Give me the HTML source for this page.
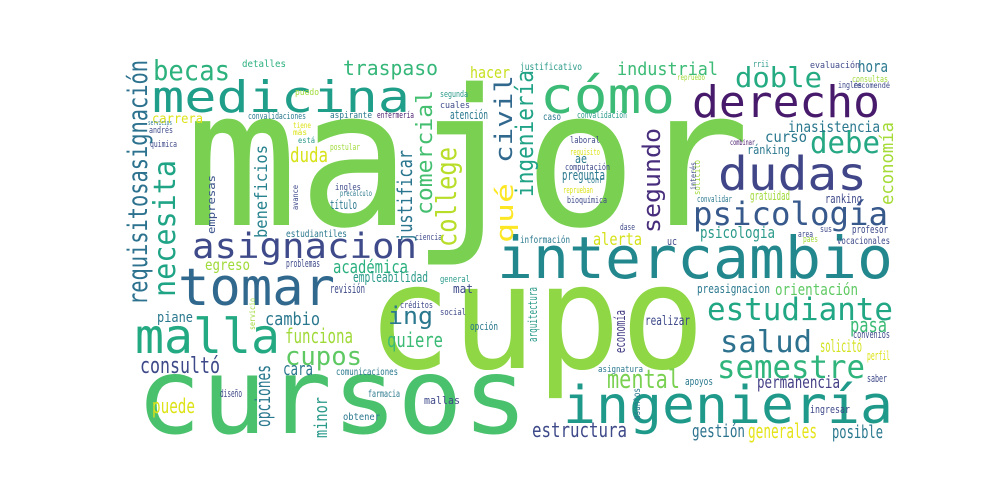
<!DOCTYPE html>
<html><head><meta charset="utf-8"><style>
html,body{margin:0;padding:0;background:#fff;width:1000px;height:500px;overflow:hidden}
svg text{font-family:"DejaVu Sans Mono","Liberation Mono",monospace}
</style></head><body>
<svg width="1000" height="500" viewBox="0 0 1000 500" xmlns="http://www.w3.org/2000/svg">
<rect x="0" y="0" width="1000" height="500" fill="#fff"/>
<g id="words"></g>
</svg>
<script>
// [text, x, y(baseline), fontSize, length, color, vertical]
const words = [
["major",185,225,190,565,"#7ad151",0],
["cupo",367,368,145,338,"#8fd744",0],
["cursos",136,433,105,392,"#4ac16d",0],
["ingeniería",563,423,52,330,"#1f9a8a",0],
["intercambio",497,278,58,396,"#23888e",0],
["tomar",178,305,52,157,"#31688e",0],
["malla",135,353,48,145,"#24aa83",0],
["medicina",152,112,44,258,"#1f9e89",0],
["cómo",540,113,50,135,"#3bbb75",0],
["derecho",692,117,44,188,"#481a6c",0],
["dudas",718,190,46,149,"#404688",0],
["asignacion",192,258,35,225,"#3e4a89",0],
["psicología",693,225,32,195,"#37598c",0],
["estudiante",707,320,31,186,"#22a785",0],
["salud",720,352,30,92,"#2d718e",0],
["semestre",717,378,32,148,"#2fb47c",0],
["mental",607,388,26,73,"#7ad151",0],
["doble",735,87,28,87,"#25ab82",0],
["debe",810,153,30,70,"#26a884",0],
["becas",153,80,28,77,"#2db27d",0],
["traspaso",343,75,20,95,"#35b779",0],
["cupos",285,365,26,77,"#5ec962",0],
["hacer",470,78,16,40,"#c8e020",0],
["industrial",617,75,18,101,"#3bbb75",0],
["hora",858,72,16,30,"#2a788e",0],
["duda",290,162,20,38,"#d8e219",0],
["alerta",593,245,17,49,"#d5e21a",0],
["académica",333,273,18,75,"#2ab07f",0],
["orientación",775,295,16,83,"#5ec962",0],
["pasa",850,332,20,37,"#3bbb75",0],
["ing",388,324,24,45,"#2a788e",0],
["quiere",387,347,20,56,"#3bbb75",0],
["cambio",265,325,18,55,"#2a788e",0],
["funciona",285,343,20,68,"#a0da39",0],
["cara",283,375,18,30,"#2a788e",0],
["piane",157,322,14,36,"#2a788e",0],
["consultó",140,373,22,80,"#3e4989",0],
["solicitó",820,352,17,42,"#d2e21b",0],
["permanencia",757,388,17,83,"#433e85",0],
["puede",152,413,20,43,"#dde318",0],
["estructura",532,437,20,95,"#3e4989",0],
["gestión",692,437,18,53,"#2c738e",0],
["generales",748,438,20,69,"#e5e419",0],
["posible",832,438,18,51,"#2a788e",0],
["curso",765,142,15,42,"#2a788e",0],
["inasistencia",788,132,15,92,"#2a788e",0],
["psicologia",700,238,16,75,"#2a9a8a",0],
["egreso",205,270,15,45,"#a0da39",0],
["pregunta",562,180,14,43,"#2a788e",0],
["atención",450,119,12,38,"#2a788e",0],
["realizar",645,325,13,45,"#3e4989",0],
["título",330,209,12,27,"#2a788e",0],
["detalles",242,67,10,44,"#2ab07f",0],
["carrera",152,123,13,51,"#dde318",0],
["consultas",852,82,9,36,"#a0da39",0],
["justificativo",520,70,10,62,"#2a9a8a",0],
["evaluación",810,68,9,50,"#3e4989",0],
["gratuidad",750,200,12,40,"#a0da39",0],
["ránking",747,154,12,43,"#2a788e",0],
["ranking",825,203,12,37,"#3e4989",0],
["profesor",852,233,11,36,"#3e4989",0],
["vocacionales",837,244,10,53,"#3e4989",0],
["información",520,243,10,50,"#2a788e",0],
["uc",667,245,11,10,"#3e4989",0],
["ae",575,163,12,12,"#2a788e",0],
["preasignacion",697,293,12,73,"#2a788e",0],
["convenios",853,338,11,37,"#3e4989",0],
["perfil",867,360,12,23,"#dde318",0],
["saber",867,382,11,20,"#3e4989",0],
["apoyos",685,385,11,28,"#2a788e",0],
["ingresar",810,413,11,40,"#3e4989",0],
["empleabilidad",353,282,14,75,"#2a9a8a",0],
["revisión",330,293,12,35,"#3e4989",0],
["problemas",286,267,11,34,"#3e4989",0],
["estudiantiles",286,237,10,61,"#2a788e",0],
["convalidaciones",248,119,9,58,"#2a788e",0],
["aspirante",330,118,9,42,"#2a788e",0],
["cuales",440,108,9,30,"#3e4989",0],
["laboral",570,143,9,30,"#3e4989",0],
["computación",565,170,9,45,"#3e4989",0],
["bioquímica",567,203,9,40,"#3e4989",0],
["mat",453,293,12,20,"#3e4989",0],
["créditos",400,308,9,33,"#3e4989",0],
["social",440,315,9,26,"#3e4989",0],
["opción",470,330,11,28,"#2a788e",0],
["diseño",220,397,11,22,"#3e4989",0],
["mallas",424,404,11,36,"#3e4989",0],
["farmacia",368,397,10,32,"#2a788e",0],
["obtener",343,420,10,37,"#2a788e",0],
["comunicaciones",336,375,10,62,"#2a788e",0],
["asignatura",598,372,9,45,"#2a788e",0],
["puedo",295,95,9,24,"#a0da39",0],
["segunda",440,97,9,28,"#2a9a8a",0],
["tiene",293,128,8,18,"#dde318",0],
["más",293,135,8,14,"#dde318",0],
["está",298,143,8,17,"#2a9a8a",0],
["postular",330,150,9,30,"#a0da39",0],
["ingles",335,190,9,26,"#3e4989",0],
["precálculo",340,196,8,32,"#2a788e",0],
["ciencia",415,240,9,27,"#3e4989",0],
["general",440,282,9,30,"#2a9a8a",0],
["andrés",149,133,9,24,"#3e4989",0],
["quimica",150,147,9,27,"#3e4989",0],
["servicios",148,125,7,24,"#2a788e",0],
["enfermería",377,118,9,37,"#481a6c",0],
["caso",543,120,10,18,"#2a788e",0],
["convalidación",577,118,9,50,"#2a9a8a",0],
["requisito",570,155,9,30,"#dde318",0],
["conr",587,183,9,16,"#2a788e",0],
["reprueban",563,193,9,30,"#dde318",0],
["dase",620,230,9,15,"#3e4989",0],
["combinar",730,145,8,25,"#481a6c",0],
["convalidar",697,202,9,35,"#2a788e",0],
["sus",820,232,9,12,"#3e4989",0],
["area",798,237,9,15,"#3e4989",0],
["paes",803,242,9,15,"#a0da39",0],
["rrii",753,67,9,16,"#2a9a8a",0],
["inglés",838,88,9,24,"#3e4989",0],
["recomendé",853,88,8,37,"#3e4989",0],
["repruebo",677,80,8,28,"#a0da39",0],
["requisitosasignación",147,305,27,245,"#2c728e",1],
["necesita",175,297,30,137,"#20a486",1],
["qué",513,243,24,60,"#fde725",1],
["civil",512,163,24,88,"#31688e",1],
["ingeniería",533,197,24,127,"#20a386",1],
["college",456,247,28,100,"#b8de29",1],
["comercial",432,215,22,125,"#44bf70",1],
["segundo",660,233,24,105,"#472d7b",1],
["justificar",412,242,20,92,"#2a768e",1],
["beneficios",267,238,17,93,"#26828e",1],
["empresas",215,234,11,59,"#3b528b",1],
["opciones",270,427,20,62,"#2a788e",1],
["minor",327,438,18,41,"#2a9a8a",1],
["economía",893,205,18,83,"#a5db36",1],
["economía",625,353,14,43,"#433e85",1],
["arquitectura",537,342,12,55,"#2a9a8a",1],
["asuntos",640,420,10,32,"#2a788e",1],
["solicito",700,195,9,35,"#a0da39",1],
["interés",696,190,8,28,"#3e4989",1],
["avance",298,210,8,25,"#3e4989",1],
["servicio",255,330,8,32,"#a0da39",1]
];
const g=document.getElementById('words');
const NS="http://www.w3.org/2000/svg";
words.forEach(w=>{
  const t=document.createElementNS(NS,'text');
  
  
  t.setAttribute('x',w[1]);t.setAttribute('y',w[2]);
  t.setAttribute('font-size',w[3]);
  t.setAttribute('fill',w[5]);
  t.setAttribute('textLength',w[4]);
  t.setAttribute('lengthAdjust','spacingAndGlyphs');
  if(w[6])t.setAttribute('transform','rotate(-90 '+w[1]+' '+w[2]+')');
  t.textContent=w[0];
  g.appendChild(t);
});
</script>
</body></html>
